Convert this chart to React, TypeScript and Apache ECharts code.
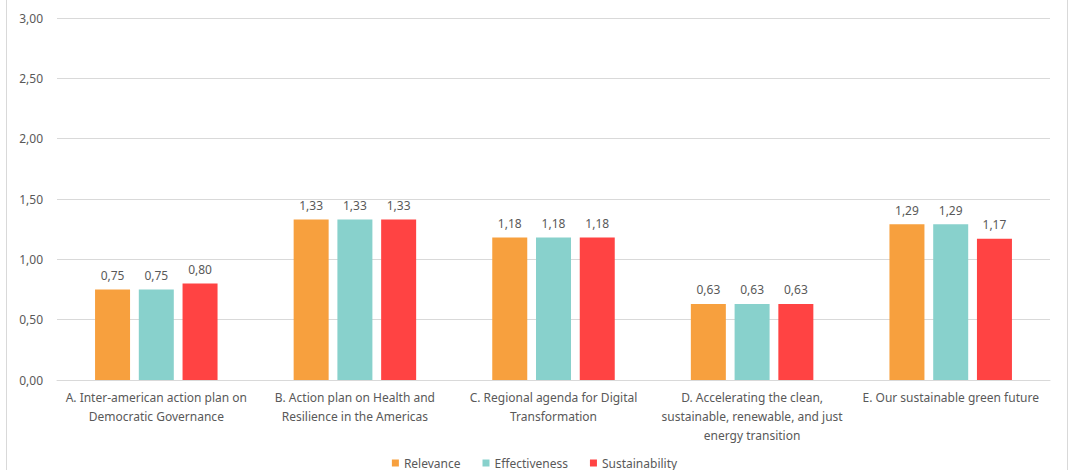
import React, { useEffect, useRef } from "react";
import * as echarts from "echarts";

const categories = [
  "A. Inter-american action plan on\nDemocratic Governance",
  "B. Action plan on Health and\nResilience in the Americas",
  "C. Regional agenda for Digital\nTransformation",
  "D. Accelerating the clean,\nsustainable, renewable, and just\nenergy transition",
  "E. Our sustainable green future",
];
const relevance = [0.75, 1.33, 1.18, 0.63, 1.29];
const effectiveness = [0.75, 1.33, 1.18, 0.63, 1.29];
const sustainability = [0.8, 1.33, 1.18, 0.63, 1.17];

const FONT = "Noto Sans";
const TXT = "#595959";
const fmt = (v: number) => v.toFixed(2).replace(".", ",");

export default function App() {
  const ref = useRef<HTMLDivElement>(null);
  useEffect(() => {
    const chart = echarts.init(ref.current!, null, { renderer: "svg" });
    const mk = (name: string, data: number[], color: string) => ({
      name,
      type: "bar",
      data,
      barWidth: 35,
      barGap: "25%",
      itemStyle: { color },
      label: {
        show: true,
        position: "top",
        distance: 8,
        color: TXT,
        fontFamily: FONT,
        fontSize: 12,
        formatter: (p: any) => fmt(p.value),
      },
    });
    chart.setOption({
      animation: false,
      textStyle: { fontFamily: FONT },
      grid: { left: 57, right: 19, top: 18, bottom: 90 },
      legend: {
        top: 452,
        left: "center",
        itemWidth: 7,
        itemHeight: 7,
        itemGap: 22,
        icon: "rect",
        textStyle: { color: TXT, fontFamily: FONT, fontSize: 12 },
        data: ["Relevance", "Effectiveness", "Sustainability"],
      },
      xAxis: {
        type: "category",
        data: categories,
        axisLine: { lineStyle: { color: "#d9d9d9" } },
        axisTick: { show: false },
        axisLabel: {
          color: TXT,
          fontFamily: FONT,
          fontSize: 12,
          lineHeight: 19,
          margin: 8,
          interval: 0,
        },
      },
      yAxis: {
        type: "value",
        min: 0,
        max: 3,
        interval: 0.5,
        axisLine: { show: false },
        axisTick: { show: false },
        splitLine: { lineStyle: { color: "#d9d9d9" } },
        axisLabel: {
          color: TXT,
          fontFamily: FONT,
          fontSize: 12,
          margin: 14,
          formatter: (v: number) => fmt(v),
        },
      },
      graphic: [
        { type: "line", shape: { x1: 6.5, y1: 0, x2: 6.5, y2: 470 }, style: { stroke: "#d9d9d9", lineWidth: 1 } },
        { type: "line", shape: { x1: 1067.5, y1: 0, x2: 1067.5, y2: 470 }, style: { stroke: "#d9d9d9", lineWidth: 1 } },
      ],
      series: [
        mk("Relevance", relevance, "#F7A03E"),
        mk("Effectiveness", effectiveness, "#88D1CC"),
        mk("Sustainability", sustainability, "#FF4343"),
      ],
    });
    return () => chart.dispose();
  }, []);
  return (
    <div
      ref={ref}
      style={{ position: "fixed", left: 0, top: 0, width: 1069, height: 470, background: "#fff" }}
    />
  );
}
